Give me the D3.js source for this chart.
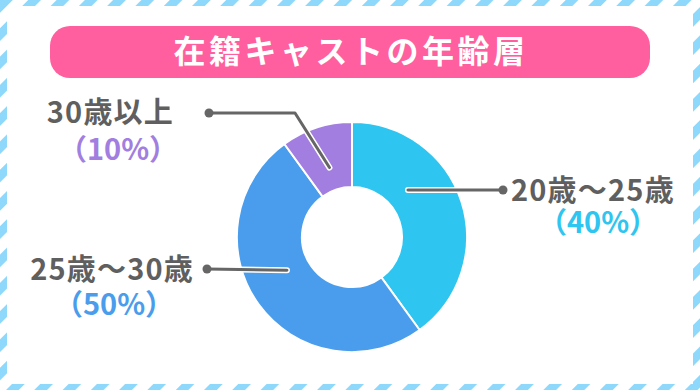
<!DOCTYPE html>
<html>
<head>
<meta charset="utf-8">
<script src="https://d3js.org/d3.v7.min.js"></script>
<style>
  body { margin: 0; background: #fff; }
  text { font-family: "Noto Sans CJK JP", "Noto Sans", sans-serif; font-weight: 700; }
</style>
</head>
<body>
<svg id="chart" width="700" height="390"></svg>
<script>
// chart data
const title = "在籍キャストの年齢層";
const categories = ["20歳〜25歳", "25歳〜30歳", "30歳以上"];
const values = [40, 50, 10];
const colors = ["#2ec5f0", "#4a9dec", "#a17ee0"];

const svg = d3.select("#chart");
const W = 700, H = 390;

// striped frame
const defs = svg.append("defs");
defs.append("pattern")
  .attr("id", "stripes")
  .attr("patternUnits", "userSpaceOnUse")
  .attr("width", 20).attr("height", 20)
  .attr("patternTransform", "rotate(45)")
  .append("rect")
  .attr("width", 9).attr("height", 20)
  .attr("fill", "#8ed8fb");

svg.append("rect").attr("width", W).attr("height", H).attr("fill", "#fff");
svg.append("rect").attr("width", W).attr("height", H).attr("fill", "url(#stripes)");
svg.append("rect")
  .attr("x", 7).attr("y", 6)
  .attr("width", W - 14).attr("height", H - 12)
  .attr("fill", "#fff");

// title pill
svg.append("rect")
  .attr("x", 50).attr("y", 26)
  .attr("width", 600).attr("height", 52)
  .attr("rx", 20)
  .attr("fill", "#ff5f9e");
svg.append("text")
  .attr("x", 351).attr("y", 63)
  .attr("text-anchor", "middle")
  .attr("font-size", 32)
  .attr("letter-spacing", 3.5)
  .attr("fill", "#fff")
  .text(title);

// donut
const cx = 352, cy = 237, rOuter = 115, rInner = 50;
const g = svg.append("g").attr("transform", `translate(${cx},${cy})`);

const pie = d3.pie().sort(null).value((d) => d);
const arcs = pie(values);
const arc = d3.arc().innerRadius(rInner).outerRadius(rOuter);

g.selectAll("path.slice")
  .data(arcs)
  .join("path")
  .attr("class", "slice")
  .attr("d", arc)
  .attr("fill", (d, i) => colors[i])
  .attr("stroke", "#fff")
  .attr("stroke-width", 2);

// label layout (positions, not data)
const deg = Math.PI / 180;
const labelLayout = [
  { angle: 50 * deg, path: [[503, 190]], name: [511, 201, "start"], pct: [598, 233] },
  { angle: 243 * deg, path: [[207, 269]], name: [194, 280, "end"], pct: [114, 315] },
  { angle: null, path: [[295, 113], [209, 113]], name: [174, 123, "end"], pct: [118, 160] }
];

const anchorR = 73;
labelLayout.forEach((lay, i) => {
  const a = lay.angle === null ? (arcs[i].startAngle + arcs[i].endAngle) / 2 : lay.angle;
  const start = [cx + anchorR * Math.sin(a), cy - anchorR * Math.cos(a)];
  const pts = [start, ...lay.path];
  const line = d3.line();
  svg.append("path")
    .attr("d", line(pts))
    .attr("fill", "none")
    .attr("stroke", "#fff")
    .attr("stroke-width", 6)
    .attr("stroke-linecap", "round")
    .attr("stroke-linejoin", "round");
  svg.append("path")
    .attr("d", line(pts))
    .attr("fill", "none")
    .attr("stroke", "#666")
    .attr("stroke-width", 3)
    .attr("stroke-linecap", "round")
    .attr("stroke-linejoin", "round");
  const end = pts[pts.length - 1];
  svg.append("circle")
    .attr("cx", end[0]).attr("cy", end[1])
    .attr("r", 4.5)
    .attr("fill", "#666");

  svg.append("text")
    .attr("x", lay.name[0]).attr("y", lay.name[1])
    .attr("text-anchor", lay.name[2])
    .attr("font-size", 29)
    .attr("letter-spacing", 1.2)
    .attr("fill", "#5f5f5f")
    .text(categories[i]);
  svg.append("text")
    .attr("x", lay.pct[0]).attr("y", lay.pct[1])
    .attr("text-anchor", "middle")
    .attr("font-size", 29)
    .attr("fill", colors[i])
    .text(`（${values[i]}%）`);
});
</script>
</body>
</html>
